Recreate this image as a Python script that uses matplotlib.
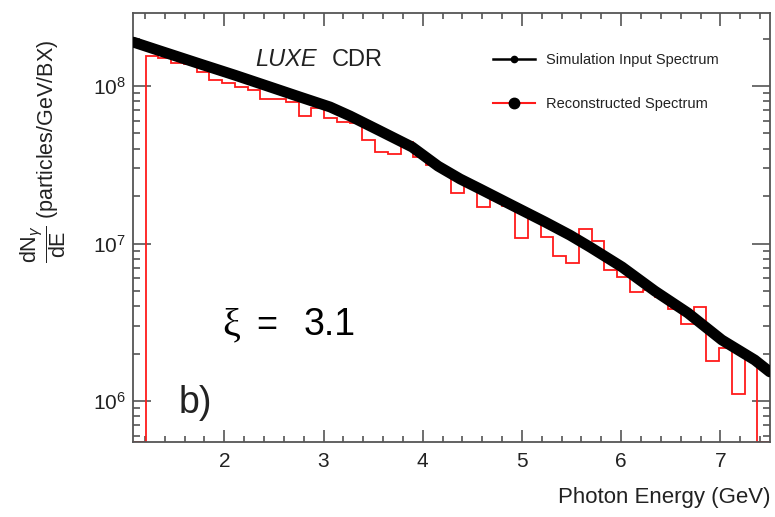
import numpy as np
import matplotlib
matplotlib.use("Agg")
import matplotlib.pyplot as plt
from matplotlib.lines import Line2D
from matplotlib.ticker import LogLocator, MultipleLocator, FuncFormatter, NullFormatter

plt.rcParams['font.family'] = ['Liberation Sans', 'DejaVu Sans']
plt.rcParams['mathtext.fontset'] = 'custom'
plt.rcParams['mathtext.rm'] = 'Liberation Sans'
plt.rcParams['mathtext.it'] = 'Liberation Sans:italic'
plt.rcParams['mathtext.bf'] = 'Liberation Sans:bold'

# simulation input spectrum (photon energy in GeV, dN/dE)
sim_energy = [1.084, 1.355, 1.758, 2.111, 2.463, 2.765, 3.067, 3.269, 3.551, 3.893,
              4.155, 4.377, 4.578, 4.900, 5.233, 5.484, 5.686, 6.008, 6.340, 6.673,
              7.015, 7.347, 7.498]
sim_dnde = [1.90e8, 1.67e8, 1.38e8, 1.17e8, 9.86e7, 8.51e7, 7.36e7, 6.45e7, 5.26e7, 4.10e7,
            3.10e7, 2.57e7, 2.22e7, 1.75e7, 1.37e7, 1.13e7, 9.50e6, 7.10e6, 4.99e6, 3.62e6,
            2.44e6, 1.82e6, 1.53e6]

# reconstructed spectrum, 50 bins between e_min and e_max
e_min, e_max, n_bins = 1.08, 7.50, 50
reco_dnde = [0,
             1.551e8, 1.499e8, 1.410e8, 1.379e8, 1.222e8, 1.092e8, 1.050e8, 9.90e7, 9.43e7, 8.33e7,
             8.23e7, 7.95e7, 6.50e7, 7.25e7, 6.26e7, 5.93e7, 5.82e7, 4.54e7, 3.83e7, 3.70e7,
             4.43e7, 3.56e7, 3.15e7, 2.93e7, 2.09e7, 2.42e7, 1.70e7, 1.89e7, 1.73e7, 1.09e7,
             1.49e7, 1.10e7, 8.33e6, 7.52e6, 1.24e7, 1.04e7, 6.79e6, 6.16e6, 4.94e6, 5.07e6,
             4.55e6, 3.82e6, 3.08e6, 3.93e6, 1.80e6, 2.16e6, 1.11e6, 1.82e6,
             0]

y_lo, y_hi = 5.49e5, 2.91e8

W, H = 775, 517
fig = plt.figure(figsize=(W / 100, H / 100), dpi=100)
ax = fig.add_axes([133 / W, 1 - 442 / H, (770 - 133) / W, (442 - 13) / H])

edges = np.linspace(e_min, e_max, n_bins + 1)
ax.stairs(np.maximum(reco_dnde, y_lo), edges, color='#ff1a1a', lw=1.3, zorder=2)
ax.plot(sim_energy, sim_dnde, color='black', lw=7.8, solid_capstyle='round',
        solid_joinstyle='round', zorder=3)

ax.set_yscale('log')
ax.set_xlim(e_min, e_max)
ax.set_ylim(y_lo, y_hi)

ax.xaxis.set_major_locator(MultipleLocator(1))
ax.xaxis.set_minor_locator(MultipleLocator(0.2))
ax.yaxis.set_major_locator(LogLocator(base=10, numticks=10))
ax.yaxis.set_minor_locator(LogLocator(base=10, subs=np.arange(2, 10), numticks=10))
ax.yaxis.set_major_formatter(FuncFormatter(lambda v, p: r'$10^{%d}$' % round(np.log10(v))))
ax.yaxis.set_minor_formatter(NullFormatter())

tick_col = '#555555'
ax.tick_params(which='both', direction='in', top=True, right=True, colors=tick_col,
               labelcolor='#222222', labelsize=15, width=1.2)
ax.tick_params(axis='x', which='major', length=9, pad=7)
ax.tick_params(axis='x', which='minor', length=4.5)
ax.tick_params(axis='y', which='major', length=13, pad=5)
ax.tick_params(axis='y', which='minor', length=5)
for s in ax.spines.values():
    s.set_color(tick_col)
    s.set_linewidth(1.3)

fig.text(770 / W, 1 - 498 / H, 'Photon Energy (GeV)', ha='right', va='center',
         fontsize=16, color='#222222')
fig.text(43 / W, 1 - 151 / H, r'$\dfrac{\mathrm{dN}_{\gamma}}{\mathrm{dE}}$ (particles/GeV/BX)',
         rotation=90, ha='center', va='center', fontsize=15.5, color='#222222')

fig.text(255 / W, 1 - 60 / H, 'LUXE', style='italic', ha='left', va='center',
         fontsize=17, color='#222222')
fig.text(332 / W, 1 - 60 / H, 'CDR', ha='left', va='center', fontsize=17, color='#222222')

fig.text(222 / W, 1 - 335 / H, 'ξ', family=['Liberation Serif', 'DejaVu Serif'],
         ha='left', va='baseline', fontsize=29)
fig.text(256 / W, 1 - 335 / H, '=', ha='left', va='baseline', fontsize=26)
fig.text(304 / W, 1 - 335 / H, '3.1', ha='left', va='baseline', fontsize=27)
fig.text(179 / W, 1 - 413 / H, 'b)', ha='left', va='baseline', fontsize=27, color='#222222')

handles = [Line2D([], [], color='black', lw=1.8, marker='o', ms=4.5),
           Line2D([], [], color='#ff1a1a', lw=1.5, marker='o', ms=7.5, mfc='black', mec='black')]
fig.legend(handles, ['Simulation Input Spectrum', 'Reconstructed Spectrum'],
           loc='upper left', bbox_to_anchor=(493 / W, 1 - 53 / H), frameon=False,
           fontsize=10.5, handlelength=2.9, handletextpad=0.7, labelspacing=2.05,
           borderpad=0, borderaxespad=0, labelcolor='#222222')

fig.savefig('out.png', dpi=100)
